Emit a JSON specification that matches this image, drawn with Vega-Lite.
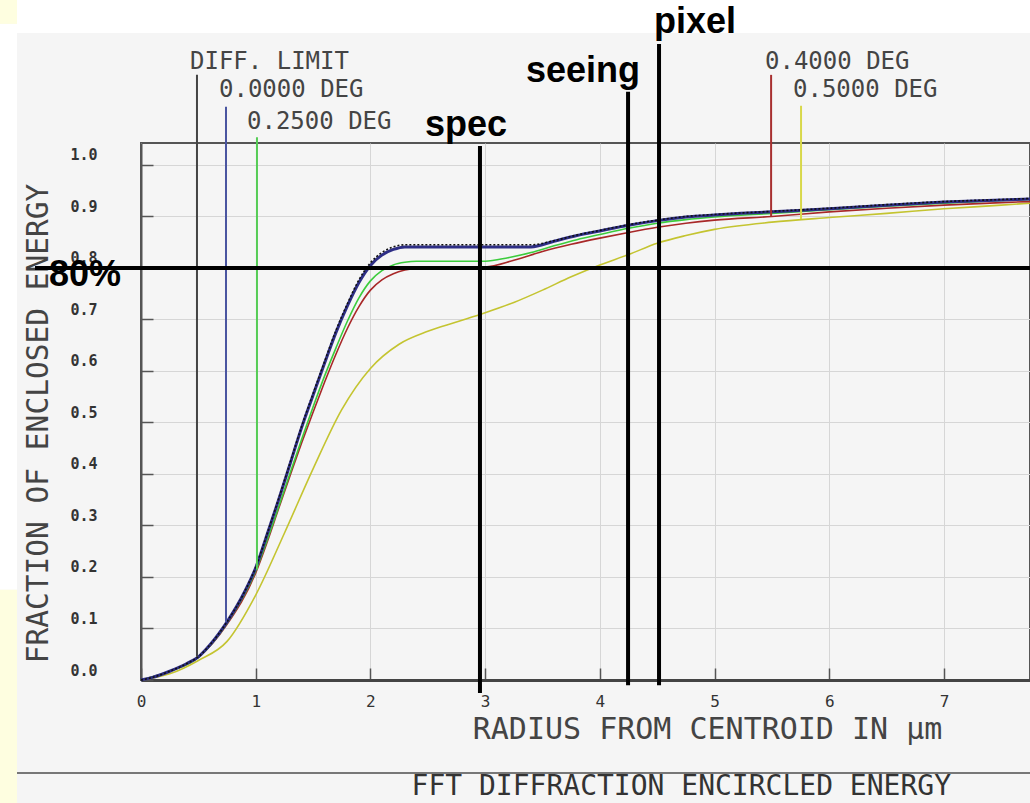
{
  "$schema": "https://vega.github.io/schema/vega-lite/v6.json",
  "width": 889,
  "height": 537,
  "autosize": {"type": "none"},
  "padding": {"left": 141, "top": 143, "right": 0, "bottom": 123},
  "background": "#f5f5f5",
  "config": {"view": {"stroke": "#555555", "strokeWidth": 2}},
  "datasets": {
    "whiteband": [{"r": -1.081, "r2": 7.8, "e": 1.2563, "e2": 1.35}, {"r": -1.23, "r2": -1.081, "e": 1.274, "e2": 0.175}],
    "yellowstrip": [{"r": -1.23, "r2": -1.081, "e": 1.35, "e2": 1.274}, {"r": -1.23, "r2": -1.081, "e": 0.175, "e2": -0.26}],
    "separator": [{"r": -1.081, "r2": 7.8, "e": -0.1806}],
    "topticks": [{"r": 1}, {"r": 2}, {"r": 3}, {"r": 4}, {"r": 5}, {"r": 6}, {"r": 7}],
    "curves": [
      {"s": "Y", "r": 0, "e": 0}, {"s": "Y", "r": 0.25, "e": 0.012}, {"s": "Y", "r": 0.5, "e": 0.038}, {"s": "Y", "r": 0.75, "e": 0.075}, {"s": "Y", "r": 1.0, "e": 0.165}, {"s": "Y", "r": 1.25, "e": 0.285}, {"s": "Y", "r": 1.5, "e": 0.41}, {"s": "Y", "r": 1.75, "e": 0.525}, {"s": "Y", "r": 2.0, "e": 0.605}, {"s": "Y", "r": 2.25, "e": 0.652}, {"s": "Y", "r": 2.5, "e": 0.677}, {"s": "Y", "r": 2.75, "e": 0.695}, {"s": "Y", "r": 3.0, "e": 0.713}, {"s": "Y", "r": 3.25, "e": 0.733}, {"s": "Y", "r": 3.5, "e": 0.757}, {"s": "Y", "r": 3.75, "e": 0.783}, {"s": "Y", "r": 4.0, "e": 0.806}, {"s": "Y", "r": 4.25, "e": 0.826}, {"s": "Y", "r": 4.5, "e": 0.848}, {"s": "Y", "r": 4.75, "e": 0.863}, {"s": "Y", "r": 5.0, "e": 0.875}, {"s": "Y", "r": 5.5, "e": 0.889}, {"s": "Y", "r": 6.0, "e": 0.898}, {"s": "Y", "r": 6.5, "e": 0.906}, {"s": "Y", "r": 7.0, "e": 0.915}, {"s": "Y", "r": 7.5, "e": 0.922}, {"s": "Y", "r": 7.75, "e": 0.926},
      {"s": "R", "r": 0, "e": 0}, {"s": "R", "r": 0.25, "e": 0.017}, {"s": "R", "r": 0.5, "e": 0.044}, {"s": "R", "r": 0.75, "e": 0.108}, {"s": "R", "r": 1.0, "e": 0.208}, {"s": "R", "r": 1.1, "e": 0.268}, {"s": "R", "r": 1.2, "e": 0.333}, {"s": "R", "r": 1.3, "e": 0.397}, {"s": "R", "r": 1.4, "e": 0.46}, {"s": "R", "r": 1.5, "e": 0.52}, {"s": "R", "r": 1.6, "e": 0.578}, {"s": "R", "r": 1.7, "e": 0.633}, {"s": "R", "r": 1.8, "e": 0.683}, {"s": "R", "r": 1.9, "e": 0.725}, {"s": "R", "r": 2.0, "e": 0.757}, {"s": "R", "r": 2.1, "e": 0.777}, {"s": "R", "r": 2.2, "e": 0.789}, {"s": "R", "r": 2.3, "e": 0.796}, {"s": "R", "r": 2.45, "e": 0.8}, {"s": "R", "r": 3.0, "e": 0.802}, {"s": "R", "r": 3.25, "e": 0.815}, {"s": "R", "r": 3.5, "e": 0.832}, {"s": "R", "r": 3.75, "e": 0.846}, {"s": "R", "r": 4.0, "e": 0.858}, {"s": "R", "r": 4.25, "e": 0.869}, {"s": "R", "r": 4.5, "e": 0.879}, {"s": "R", "r": 4.75, "e": 0.887}, {"s": "R", "r": 5.0, "e": 0.893}, {"s": "R", "r": 5.5, "e": 0.9}, {"s": "R", "r": 6.0, "e": 0.909}, {"s": "R", "r": 6.5, "e": 0.916}, {"s": "R", "r": 7.0, "e": 0.922}, {"s": "R", "r": 7.5, "e": 0.927}, {"s": "R", "r": 7.75, "e": 0.929},
      {"s": "G", "r": 0, "e": 0}, {"s": "G", "r": 0.25, "e": 0.017}, {"s": "G", "r": 0.5, "e": 0.044}, {"s": "G", "r": 0.75, "e": 0.11}, {"s": "G", "r": 1.0, "e": 0.212}, {"s": "G", "r": 1.1, "e": 0.272}, {"s": "G", "r": 1.2, "e": 0.336}, {"s": "G", "r": 1.3, "e": 0.402}, {"s": "G", "r": 1.4, "e": 0.467}, {"s": "G", "r": 1.5, "e": 0.53}, {"s": "G", "r": 1.6, "e": 0.59}, {"s": "G", "r": 1.7, "e": 0.645}, {"s": "G", "r": 1.8, "e": 0.697}, {"s": "G", "r": 1.9, "e": 0.742}, {"s": "G", "r": 2.0, "e": 0.775}, {"s": "G", "r": 2.1, "e": 0.795}, {"s": "G", "r": 2.2, "e": 0.806}, {"s": "G", "r": 2.3, "e": 0.811}, {"s": "G", "r": 2.4, "e": 0.813}, {"s": "G", "r": 3.0, "e": 0.813}, {"s": "G", "r": 3.2, "e": 0.82}, {"s": "G", "r": 3.4, "e": 0.83}, {"s": "G", "r": 3.6, "e": 0.843}, {"s": "G", "r": 3.8, "e": 0.855}, {"s": "G", "r": 4.0, "e": 0.865}, {"s": "G", "r": 4.25, "e": 0.877}, {"s": "G", "r": 4.5, "e": 0.887}, {"s": "G", "r": 4.75, "e": 0.894}, {"s": "G", "r": 5.0, "e": 0.899}, {"s": "G", "r": 5.5, "e": 0.906}, {"s": "G", "r": 6.0, "e": 0.913}, {"s": "G", "r": 6.5, "e": 0.92}, {"s": "G", "r": 7.0, "e": 0.926}, {"s": "G", "r": 7.5, "e": 0.931}, {"s": "G", "r": 7.75, "e": 0.933},
      {"s": "B", "r": 0, "e": 0}, {"s": "B", "r": 0.1, "e": 0.005}, {"s": "B", "r": 0.25, "e": 0.017}, {"s": "B", "r": 0.4, "e": 0.032}, {"s": "B", "r": 0.5, "e": 0.045}, {"s": "B", "r": 0.6, "e": 0.068}, {"s": "B", "r": 0.75, "e": 0.113}, {"s": "B", "r": 0.9, "e": 0.17}, {"s": "B", "r": 1.0, "e": 0.218}, {"s": "B", "r": 1.1, "e": 0.283}, {"s": "B", "r": 1.2, "e": 0.35}, {"s": "B", "r": 1.3, "e": 0.42}, {"s": "B", "r": 1.4, "e": 0.49}, {"s": "B", "r": 1.5, "e": 0.553}, {"s": "B", "r": 1.6, "e": 0.615}, {"s": "B", "r": 1.7, "e": 0.675}, {"s": "B", "r": 1.8, "e": 0.727}, {"s": "B", "r": 1.9, "e": 0.772}, {"s": "B", "r": 2.0, "e": 0.805}, {"s": "B", "r": 2.1, "e": 0.825}, {"s": "B", "r": 2.2, "e": 0.836}, {"s": "B", "r": 2.3, "e": 0.841}, {"s": "B", "r": 3.4, "e": 0.841}, {"s": "B", "r": 3.6, "e": 0.852}, {"s": "B", "r": 3.8, "e": 0.863}, {"s": "B", "r": 4.0, "e": 0.872}, {"s": "B", "r": 4.25, "e": 0.883}, {"s": "B", "r": 4.5, "e": 0.892}, {"s": "B", "r": 4.75, "e": 0.899}, {"s": "B", "r": 5.0, "e": 0.903}, {"s": "B", "r": 5.5, "e": 0.909}, {"s": "B", "r": 6.0, "e": 0.915}, {"s": "B", "r": 6.5, "e": 0.922}, {"s": "B", "r": 7.0, "e": 0.928}, {"s": "B", "r": 7.5, "e": 0.932}, {"s": "B", "r": 7.75, "e": 0.934},
      {"s": "D", "r": 0, "e": 0}, {"s": "D", "r": 0.1, "e": 0.005}, {"s": "D", "r": 0.25, "e": 0.017}, {"s": "D", "r": 0.4, "e": 0.032}, {"s": "D", "r": 0.5, "e": 0.045}, {"s": "D", "r": 0.6, "e": 0.068}, {"s": "D", "r": 0.75, "e": 0.113}, {"s": "D", "r": 0.9, "e": 0.17}, {"s": "D", "r": 1.0, "e": 0.219}, {"s": "D", "r": 1.1, "e": 0.284}, {"s": "D", "r": 1.2, "e": 0.352}, {"s": "D", "r": 1.3, "e": 0.422}, {"s": "D", "r": 1.4, "e": 0.492}, {"s": "D", "r": 1.5, "e": 0.556}, {"s": "D", "r": 1.6, "e": 0.618}, {"s": "D", "r": 1.7, "e": 0.679}, {"s": "D", "r": 1.8, "e": 0.731}, {"s": "D", "r": 1.9, "e": 0.777}, {"s": "D", "r": 2.0, "e": 0.81}, {"s": "D", "r": 2.1, "e": 0.83}, {"s": "D", "r": 2.2, "e": 0.841}, {"s": "D", "r": 2.3, "e": 0.845}, {"s": "D", "r": 3.4, "e": 0.845}, {"s": "D", "r": 3.6, "e": 0.853}, {"s": "D", "r": 3.8, "e": 0.864}, {"s": "D", "r": 4.0, "e": 0.873}, {"s": "D", "r": 4.25, "e": 0.884}, {"s": "D", "r": 4.5, "e": 0.893}, {"s": "D", "r": 4.75, "e": 0.9}, {"s": "D", "r": 5.0, "e": 0.904}, {"s": "D", "r": 5.5, "e": 0.91}, {"s": "D", "r": 6.0, "e": 0.916}, {"s": "D", "r": 6.5, "e": 0.923}, {"s": "D", "r": 7.0, "e": 0.929}, {"s": "D", "r": 7.5, "e": 0.933}, {"s": "D", "r": 7.75, "e": 0.935}
    ],
    "labellines": [
      {"s": "D", "r": 0.488, "e": 1.175, "e2": 0.045},
      {"s": "B", "r": 0.741, "e": 1.113, "e2": 0.113},
      {"s": "G", "r": 1.011, "e": 1.054, "e2": 0.214},
      {"s": "R", "r": 5.493, "e": 1.175, "e2": 0.9},
      {"s": "Y", "r": 5.754, "e": 1.115, "e2": 0.895}
    ],
    "labels": [
      {"t": "DIFF. LIMIT", "r": 0.427, "e": 1.2},
      {"t": "0.0000 DEG", "r": 0.68, "e": 1.1456},
      {"t": "0.2500 DEG", "r": 0.924, "e": 1.0835},
      {"t": "0.4000 DEG", "r": 5.44, "e": 1.2},
      {"t": "0.5000 DEG", "r": 5.684, "e": 1.1456}
    ],
    "marks": [
      {"n": "spec", "r": 2.955, "e": 1.037, "e2": -0.025},
      {"n": "seeing", "r": 4.246, "e": 1.142, "e2": -0.01},
      {"n": "pixel", "r": 4.516, "e": 1.235, "e2": -0.01}
    ],
    "hline": [{"r": -0.924, "r2": 7.8, "e": 0.8}],
    "marktext": [
      {"t": "pixel", "r": 4.83, "e": 1.256},
      {"t": "seeing", "r": 3.853, "e": 1.161},
      {"t": "spec", "r": 2.833, "e": 1.056},
      {"t": "80%", "r": -0.488, "e": 0.765}
    ],
    "bottomtitle": [{"t": "FFT DIFFRACTION ENCIRCLED ENERGY", "r": 4.71, "e": -0.2233}]
  },
  "encoding": {
    "x": {
      "field": "r", "type": "quantitative",
      "scale": {"domain": [0, 7.75], "nice": false, "zero": false},
      "title": "RADIUS FROM CENTROID IN µm",
      "axis": {
        "values": [0, 1, 2, 3, 4, 5, 6, 7],
        "grid": true, "gridColor": "#d6d6d6", "gridWidth": 1,
        "domainColor": "#444444", "domainWidth": 3,
        "tickColor": "#555555", "tickWidth": 1.5, "tickSize": -12,
        "labelPadding": 25, "labelFont": "DejaVu Sans Mono", "labelFontSize": 16, "labelColor": "#333333", "labelFlush": false,
        "titleFont": "DejaVu Sans Mono", "titleFontSize": 30, "titleFontWeight": "normal", "titleColor": "#444444",
        "titleX": 566, "titleY": 58, "titleAlign": "center", "titleBaseline": "alphabetic"
      }
    },
    "y": {
      "field": "e", "type": "quantitative",
      "scale": {"domain": [0, 1.0427], "nice": false},
      "title": "FRACTION OF ENCLOSED ENERGY",
      "axis": {
        "values": [0, 0.1, 0.2, 0.3, 0.4, 0.5, 0.6, 0.7, 0.8, 0.9, 1.0],
        "format": ".1f",
        "grid": true, "gridColor": "#d6d6d6", "gridWidth": 1,
        "domainColor": "#555555", "domainWidth": 2,
        "tickColor": "#555555", "tickWidth": 1.5, "tickSize": -12,
        "labelPadding": 56, "labelOffset": -10, "labelOverlap": false,
        "labelFont": "DejaVu Sans Mono", "labelFontSize": 15, "labelFontWeight": "bold", "labelColor": "#333333",
        "titleFont": "DejaVu Sans Mono", "titleFontSize": 29.5, "titleFontWeight": "normal", "titleColor": "#444444",
        "titleX": -103, "titleY": 280, "titleAngle": 270, "titleAlign": "center", "titleBaseline": "middle"
      }
    }
  },
  "layer": [
    {"data": {"name": "whiteband"}, "mark": {"type": "rect", "fill": "#ffffff", "clip": false}, "encoding": {"x2": {"field": "r2"}, "y2": {"field": "e2"}}},
    {"data": {"name": "yellowstrip"}, "mark": {"type": "rect", "fill": "#fefee0", "clip": false}, "encoding": {"x2": {"field": "r2"}, "y2": {"field": "e2"}}},
    {"data": {"name": "separator"}, "mark": {"type": "rule", "color": "#777777", "strokeWidth": 2, "clip": false}, "encoding": {"x2": {"field": "r2"}}},
    {"data": {"name": "topticks"}, "mark": {"type": "rule", "color": "#555555", "strokeWidth": 1.5, "clip": false}, "encoding": {"y": {"datum": 1.0427}, "y2": {"datum": 1.0194}}},
    {"data": {"name": "curves"}, "transform": [{"filter": "datum.s === 'Y'"}], "mark": {"type": "line", "color": "#c4c430", "strokeWidth": 1.6, "interpolate": "monotone", "clip": false}, "encoding": {}},
    {"data": {"name": "curves"}, "transform": [{"filter": "datum.s === 'R'"}], "mark": {"type": "line", "color": "#a82828", "strokeWidth": 1.6, "interpolate": "monotone", "clip": false}, "encoding": {}},
    {"data": {"name": "curves"}, "transform": [{"filter": "datum.s === 'G'"}], "mark": {"type": "line", "color": "#3ccc3c", "strokeWidth": 1.6, "interpolate": "monotone", "clip": false}, "encoding": {}},
    {"data": {"name": "curves"}, "transform": [{"filter": "datum.s === 'B'"}], "mark": {"type": "line", "color": "#2e2e86", "strokeWidth": 3, "interpolate": "monotone", "clip": false}, "encoding": {}},
    {"data": {"name": "curves"}, "transform": [{"filter": "datum.s === 'D'"}], "mark": {"type": "line", "color": "#111111", "strokeWidth": 1.6, "strokeDash": [2, 2], "interpolate": "monotone", "clip": false}, "encoding": {}},
    {"data": {"name": "labellines"}, "mark": {"type": "rule", "strokeWidth": 2, "clip": false},
     "encoding": {"y2": {"field": "e2"}, "color": {"field": "s", "type": "nominal", "legend": null, "scale": {"domain": ["D", "B", "G", "R", "Y"], "range": ["#444444", "#4a55a0", "#55cc55", "#a83030", "#d8d84a"]}}}},
    {"data": {"name": "labels"}, "mark": {"type": "text", "align": "left", "baseline": "middle", "font": "DejaVu Sans Mono", "fontSize": 24, "color": "#444444", "clip": false}, "encoding": {"text": {"field": "t"}}},
    {"data": {"name": "marks"}, "mark": {"type": "rule", "color": "#000000", "strokeWidth": 4, "clip": false}, "encoding": {"y2": {"field": "e2"}}},
    {"data": {"name": "hline"}, "mark": {"type": "rule", "color": "#000000", "strokeWidth": 4, "clip": false}, "encoding": {"x2": {"field": "r2"}}},
    {"data": {"name": "marktext"}, "mark": {"type": "text", "align": "center", "baseline": "alphabetic", "font": "Liberation Sans", "fontWeight": "bold", "fontSize": 36, "color": "#000000", "clip": false}, "encoding": {"text": {"field": "t"}}},
    {"data": {"name": "bottomtitle"}, "mark": {"type": "text", "align": "center", "baseline": "alphabetic", "font": "DejaVu Sans Mono", "fontSize": 28, "color": "#333333", "clip": false}, "encoding": {"text": {"field": "t"}}}
  ]
}
